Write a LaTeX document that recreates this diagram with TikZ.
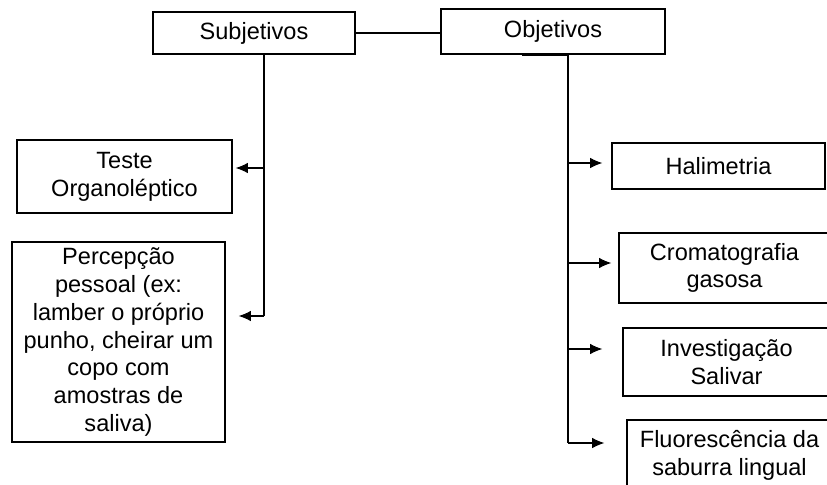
\documentclass[tikz,border=0pt]{standalone}
\usepackage{fontspec}
\setmainfont{Liberation Sans}
\usetikzlibrary{arrows.meta, positioning}

\begin{document}
\begin{tikzpicture}[x=0.02cm, y=-0.02cm,
    box/.style={draw, line width=0.7pt, inner sep=0pt, align=center,
      font=\fontsize{13.4}{15.8}\selectfont},
    link/.style={line width=0.6pt},
    arr/.style={link, -{Latex[length=7pt, width=6pt]}}]
    \clip (0,0) rectangle (827,484);
    % top boxes
    \node[box, minimum width=202*0.02cm, minimum height=42*0.02cm] (subj) at (254,33) {Subjetivos};
    \node[box, minimum width=224*0.02cm, minimum height=45*0.02cm] (obj) at (553,31.5) {Objetivos};
    \draw[link] (subj.east) -- (subj.east -| obj.west);
    % left column
    \node[box, minimum width=215*0.02cm, minimum height=73*0.02cm] (teste) at (124.5,176.5) {Teste\\Organoléptico};
    \node[box, minimum width=213*0.02cm, minimum height=200*0.02cm] (percep) at (118.5,342)
      {Percepção\\pessoal (ex:\\lamber o próprio\\punho, cheirar um\\copo com\\amostras de\\saliva)};
    \coordinate (s1) at (264,168);
    \coordinate (s2) at (264,316);
    \draw[link] (subj.south -| s2) -- (s2);
    \draw[arr, shorten >=1.7pt] (s1) -- (s1 -| teste.east);
    \draw[arr, shorten >=7.4pt] (s2) -- (s2 -| percep.east);
    % right column
    \node[box, minimum width=213*0.02cm, minimum height=46*0.02cm] (hali) at (718.5,166) {Halimetria};
    \node[box, minimum width=211*0.02cm, minimum height=70*0.02cm] (crom) at (724.5,268) {Cromatografia\\gasosa};
    \node[box, minimum width=207*0.02cm, minimum height=68*0.02cm] (inv) at (726.5,362) {Investigação\\Salivar};
    \node[box, minimum width=205*0.02cm, minimum height=70*0.02cm] (fluor) at (729.5,455) {Fluorescência da\\saburra lingual};
    \coordinate (obus) at (568,443);
    \draw[line width=1.3pt] (obj.south -| 522,0) -- (obj.south -| obus);
    \draw[link] (obj.south -| obus) -- (obus);
    \foreach \yy/\n/\gap in {163/hali/5.1pt, 263/crom/4pt, 349/inv/11.4pt, 443/fluor/12.5pt} {
      \draw[arr, shorten >=\gap] (obus |- 0,\yy) -- (\n.west |- 0,\yy);
    }
\end{tikzpicture}
\end{document}
